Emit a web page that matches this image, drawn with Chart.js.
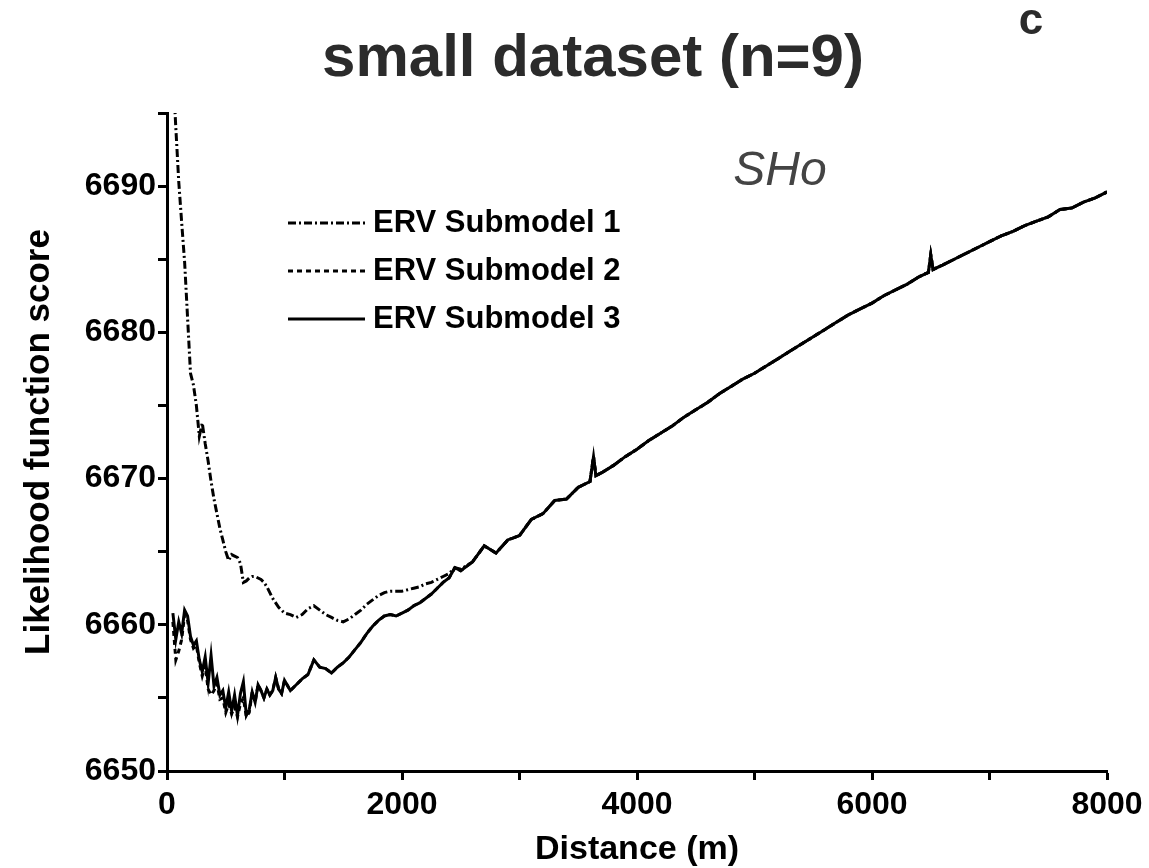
<!DOCTYPE html>
<html>
<head>
<meta charset="utf-8">
<script src="https://cdn.jsdelivr.net/npm/chart.js@4.4.0/dist/chart.umd.min.js"></script>
<style>
  body { margin: 0; background: #fff; }
  canvas { display: block; }
</style>
</head>
<body>
<canvas id="grafico" width="1149" height="868"></canvas>
<script>
// distancias (m)
const distancias = [
  50, 75, 100, 125, 150, 175, 200, 225, 250, 275,
  300, 325, 350, 375, 400, 425, 450, 475, 500, 525,
  550, 575, 600, 625, 650, 675, 700, 725, 750, 775,
  800, 825, 850, 875, 900, 925, 950, 975, 1000,
  1050, 1100, 1150, 1200, 1250, 1300, 1350, 1400, 1450, 1500,
  1550, 1600, 1650, 1700, 1750, 1800, 1850, 1900, 1950, 2000,
  2050, 2100, 2150, 2200, 2250, 2300, 2350, 2400, 2450, 2500,
  2600, 2700, 2800, 2900, 3000, 3100, 3200, 3300, 3400, 3500, 3600,
  3630, 3650,
  3700, 3800, 3900, 4000, 4100, 4200, 4300, 4400, 4500, 4600,
  4700, 4800, 4900, 5000, 5100, 5200, 5300, 5400, 5500, 5600,
  5700, 5800, 5900, 6000, 6100, 6200, 6300, 6400,
  6480, 6500, 6520,
  6600, 6700, 6800, 6900, 7000, 7100, 7200, 7300, 7400, 7500, 7600, 7700, 7800, 7900, 8000
];

const submodelo1 = [
  6698.0, 6694.0, 6690.3, 6687.5, 6684.8, 6681.0, 6677.2, 6676.4, 6675.0, 6672.9,
  6673.8, 6672.4, 6671.2, 6669.8, 6668.6, 6667.6, 6666.6, 6665.8, 6665.0, 6664.4,
  6664.8, 6664.7, 6664.6, 6664.2, 6662.9, 6663.0, 6663.2, 6663.3, 6663.3, 6663.2,
  6663.1, 6662.9, 6662.6, 6662.2, 6661.8, 6661.5, 6661.2, 6661.0, 6660.8,
  6660.7, 6660.5, 6660.7, 6661.1, 6661.3, 6661.0, 6660.7, 6660.5, 6660.3, 6660.2,
  6660.4, 6660.7, 6661.0, 6661.4, 6661.7, 6662.0, 6662.2, 6662.3, 6662.3, 6662.3,
  6662.4, 6662.5, 6662.6, 6662.8, 6662.9, 6663.1, 6663.3, 6663.5, 6663.9, 6663.8,
  6664.3, 6665.4, 6664.9, 6665.8, 6666.1, 6667.2, 6667.6, 6668.5, 6668.6, 6669.4, 6669.8,
  6671.5, 6670.2,
  6670.4, 6670.9, 6671.5, 6672.0, 6672.6, 6673.1, 6673.6, 6674.2, 6674.7, 6675.2,
  6675.8, 6676.3, 6676.8, 6677.2, 6677.7, 6678.2, 6678.7, 6679.2, 6679.7, 6680.2,
  6680.7, 6681.2, 6681.6, 6682.0, 6682.5, 6682.9, 6683.3, 6683.8,
  6684.1, 6685.3, 6684.3,
  6684.6, 6685.0, 6685.4, 6685.8, 6686.2, 6686.6, 6686.9, 6687.3, 6687.6, 6687.9, 6688.4, 6688.5, 6688.9, 6689.2, 6689.6
];

const submodelo2 = [
  6660.2, 6657.6, 6658.2, 6659.0, 6660.7, 6660.3, 6659.0, 6658.4, 6658.6, 6657.4,
  6656.5, 6657.2, 6655.6, 6655.2, 6655.5, 6656.0, 6654.9, 6655.0, 6654.0, 6654.6,
  6653.9, 6654.4, 6653.7, 6654.6, 6655.0, 6653.7, 6654.0, 6655.4, 6654.7, 6655.9,
  6655.5, 6655.0, 6655.6, 6655.2, 6655.5, 6656.4, 6655.6, 6655.3, 6656.2,
  6655.5, 6655.9, 6656.3, 6656.6, 6657.6, 6657.1, 6657.0, 6656.7, 6657.1, 6657.4,
  6657.8, 6658.3, 6658.8, 6659.4, 6659.9, 6660.3, 6660.6, 6660.7, 6660.6, 6660.8,
  6661.0, 6661.3, 6661.5, 6661.8, 6662.1, 6662.5, 6662.9, 6663.2, 6663.9, 6663.7,
  6664.3, 6665.4, 6664.9, 6665.8, 6666.1, 6667.2, 6667.6, 6668.5, 6668.6, 6669.4, 6669.8,
  6671.5, 6670.2,
  6670.4, 6670.9, 6671.5, 6672.0, 6672.6, 6673.1, 6673.6, 6674.2, 6674.7, 6675.2,
  6675.8, 6676.3, 6676.8, 6677.2, 6677.7, 6678.2, 6678.7, 6679.2, 6679.7, 6680.2,
  6680.7, 6681.2, 6681.6, 6682.0, 6682.5, 6682.9, 6683.3, 6683.8,
  6684.1, 6685.3, 6684.3,
  6684.6, 6685.0, 6685.4, 6685.8, 6686.2, 6686.6, 6686.9, 6687.3, 6687.6, 6687.9, 6688.4, 6688.5, 6688.9, 6689.2, 6689.6
];

const submodelo3 = [
  6660.8, 6659.0, 6660.2, 6659.4, 6661.0, 6660.6, 6659.2, 6658.6, 6658.9, 6657.6,
  6656.8, 6657.8, 6656.0, 6657.9, 6655.8, 6656.4, 6655.2, 6655.5, 6654.3, 6655.4,
  6654.1, 6655.2, 6653.8, 6655.3, 6656.1, 6653.8, 6654.2, 6655.4, 6654.7, 6655.9,
  6655.5, 6655.0, 6655.6, 6655.2, 6655.5, 6656.4, 6655.6, 6655.3, 6656.2,
  6655.5, 6655.9, 6656.3, 6656.6, 6657.6, 6657.1, 6657.0, 6656.7, 6657.1, 6657.4,
  6657.8, 6658.3, 6658.8, 6659.4, 6659.9, 6660.3, 6660.6, 6660.7, 6660.6, 6660.8,
  6661.0, 6661.3, 6661.5, 6661.8, 6662.1, 6662.5, 6662.9, 6663.2, 6663.9, 6663.7,
  6664.3, 6665.4, 6664.9, 6665.8, 6666.1, 6667.2, 6667.6, 6668.5, 6668.6, 6669.4, 6669.8,
  6671.5, 6670.2,
  6670.4, 6670.9, 6671.5, 6672.0, 6672.6, 6673.1, 6673.6, 6674.2, 6674.7, 6675.2,
  6675.8, 6676.3, 6676.8, 6677.2, 6677.7, 6678.2, 6678.7, 6679.2, 6679.7, 6680.2,
  6680.7, 6681.2, 6681.6, 6682.0, 6682.5, 6682.9, 6683.3, 6683.8,
  6684.1, 6685.3, 6684.3,
  6684.6, 6685.0, 6685.4, 6685.8, 6686.2, 6686.6, 6686.9, 6687.3, 6687.6, 6687.9, 6688.4, 6688.5, 6688.9, 6689.2, 6689.6
];

const etiquetas = ["ERV Submodel 1", "ERV Submodel 2", "ERV Submodel 3"];
const ticksX = [0, 2000, 4000, 6000, 8000];
const ticksY = [6650, 6660, 6670, 6680, 6690];

const fuente = "'Liberation Sans', Arial, Helvetica, sans-serif";

function puntos(valores) {
    return distancias.map((d, i) => ({ x: d, y: valores[i] }));
}

// leyenda y textos dibujados dentro del grafico
const textosExtra = {
    id: 'textosExtra',
    afterDraw(chart) {
        const ctx = chart.ctx;
        const area = chart.chartArea;
        ctx.save();

        // titulo
        ctx.fillStyle = '#2b2b2b';
        ctx.font = `bold 60px ${fuente}`;
        ctx.textAlign = 'center';
        ctx.textBaseline = 'alphabetic';
        ctx.fillText('small dataset (n=9)', 593, 76);

        ctx.font = `bold 44px ${fuente}`;
        ctx.fillText('c', 1031, 34);

        ctx.fillStyle = '#444';
        ctx.font = `italic 48px ${fuente}`;
        ctx.fillText('SHo', 780, 185);

        // leyenda
        chart.data.datasets.forEach((ds, i) => {
            const y = area.top + 110 + i * 48;
            ctx.strokeStyle = '#000';
            ctx.lineWidth = 3;
            ctx.setLineDash(ds.borderDash || []);
            ctx.beginPath();
            ctx.moveTo(area.left + 121, y);
            ctx.lineTo(area.left + 198, y);
            ctx.stroke();
            ctx.setLineDash([]);
            ctx.fillStyle = '#000';
            ctx.font = `bold 31px ${fuente}`;
            ctx.textAlign = 'left';
            ctx.textBaseline = 'middle';
            ctx.fillText(ds.label, area.left + 206, y);
        });
        ctx.restore();
    }
};

const ctx = document.getElementById('grafico').getContext('2d');

const miGrafico = new Chart(ctx, {
    type: 'line',
    data: {
        datasets: [
            {
                label: etiquetas[0],
                data: puntos(submodelo1),
                borderColor: '#000',
                borderWidth: 3,
                borderDash: [8, 3, 2, 3],
                pointRadius: 0,
                fill: false
            },
            {
                label: etiquetas[1],
                data: puntos(submodelo2),
                borderColor: '#000',
                borderWidth: 3,
                borderDash: [5, 4],
                pointRadius: 0,
                fill: false
            },
            {
                label: etiquetas[2],
                data: puntos(submodelo3),
                borderColor: '#000',
                borderWidth: 3,
                pointRadius: 0,
                fill: false
            }
        ]
    },
    options: {
        responsive: false,
        animation: false,
        devicePixelRatio: 1,
        layout: { padding: { top: 113, right: 42, left: 0, bottom: 0 } },
        plugins: {
            legend: { display: false },
            tooltip: { enabled: false }
        },
        scales: {
            x: {
                type: 'linear',
                min: 0,
                max: 8000,
                afterFit(scale) { scale.height = 97; },
                ticks: {
                    stepSize: 1000,
                    autoSkip: false,
                    maxRotation: 0,
                    padding: 6,
                    color: '#000',
                    font: { family: fuente, size: 32, weight: 'bold' },
                    callback: v => ticksX.includes(v) ? String(v) : ''
                },
                grid: { drawOnChartArea: false, tickLength: 9, tickWidth: 3, tickColor: '#000' },
                border: { color: '#000', width: 3 },
                title: {
                    display: true,
                    text: 'Distance (m)',
                    color: '#000',
                    font: { family: fuente, size: 34, weight: 'bold' },
                    padding: { top: 0, bottom: -2 }
                }
            },
            y: {
                min: 6650,
                max: 6695,
                afterFit(scale) { scale.width = 167; },
                ticks: {
                    stepSize: 5,
                    autoSkip: false,
                    padding: 2,
                    color: '#000',
                    font: { family: fuente, size: 32, weight: 'bold' },
                    callback: v => ticksY.includes(v) ? String(v) : ''
                },
                grid: { drawOnChartArea: false, tickLength: 9, tickWidth: 3, tickColor: '#000' },
                border: { color: '#000', width: 3 },
                title: {
                    display: true,
                    text: 'Likelihood function score',
                    color: '#000',
                    font: { family: fuente, size: 35, weight: 'bold' },
                    padding: { top: 18, bottom: 0 }
                }
            }
        }
    },
    plugins: [textosExtra]
});
</script>
</body>
</html>
